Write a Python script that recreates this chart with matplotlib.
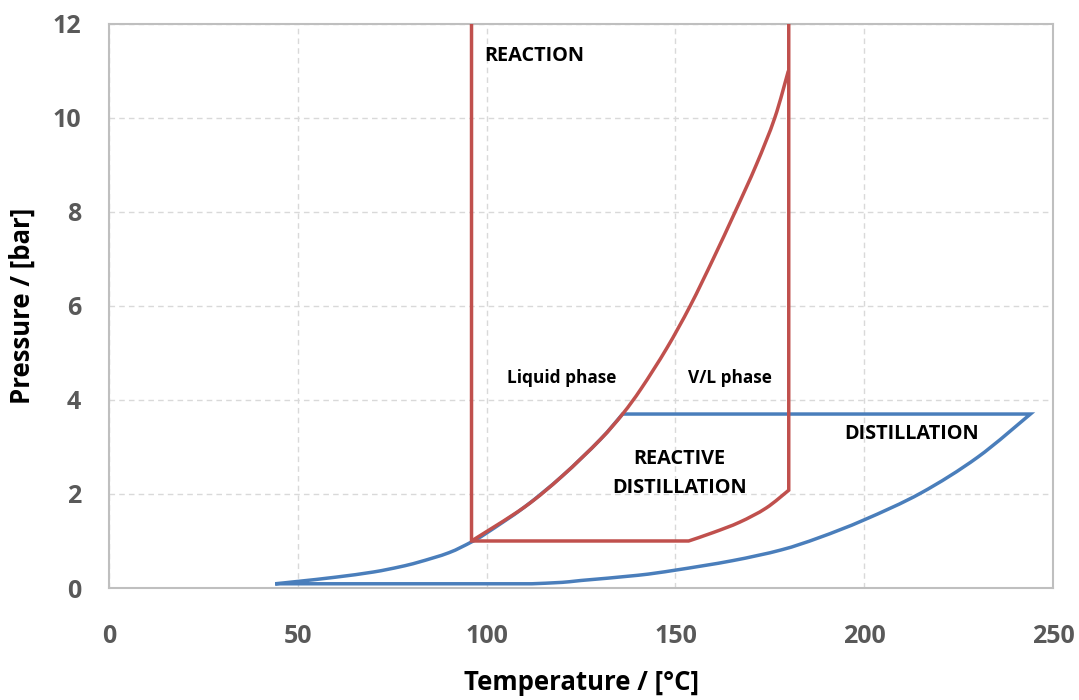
import numpy as np
import matplotlib
matplotlib.use("Agg")
from matplotlib import pyplot as plt
from matplotlib.path import Path
from matplotlib.patches import PathPatch

plt.rcParams['font.family'] = ['Open Sans', 'DejaVu Sans']

# blue: distillation envelope (upper curve, plateau, lower curve)
blue_up_T = [44, 50, 60, 70, 77, 82, 90, 96, 100, 110, 120, 130, 136]
blue_up_P = [0.09, 0.14, 0.23, 0.34, 0.45, 0.55, 0.75, 0.98, 1.17, 1.72, 2.38, 3.15, 3.7]
blue_low_T = [244, 230, 215, 200, 188, 178, 165, 150, 140, 125, 120, 112]
blue_low_P = [3.7, 2.78, 2.02, 1.45, 1.07, 0.81, 0.58, 0.38, 0.27, 0.16, 0.12, 0.09]

# red: reaction window
red_left_T = [96, 96, 153.5]
red_left_P = [12, 1.0, 1.0]
red_bend_T = [153.5, 160, 167, 174, 180]
red_bend_P = [1.0, 1.18, 1.40, 1.70, 2.08]
red_curve_T = [96, 110, 120, 130, 136, 141, 147.7, 153.9, 160, 165.8, 171.4, 176.3, 179.9]
red_curve_P = [1.0, 1.72, 2.38, 3.15, 3.7, 4.25, 5.1, 6.0, 7.0, 8.0, 9.0, 10.0, 11.0]

x_ticks = [0, 50, 100, 150, 200, 250]
y_ticks = [0, 2, 4, 6, 8, 10, 12]

blue = '#4a7ebb'
red = '#c0504d'


def add_smooth(verts, codes, xs, ys):
    # smoothed line like the spreadsheet one (Catmull-Rom as Bezier)
    pts = np.column_stack([xs, ys]).astype(float)
    if not verts:
        verts.append(pts[0]); codes.append(Path.MOVETO)
    else:
        verts.append(pts[0]); codes.append(Path.LINETO)
    n = len(pts)
    for i in range(n - 1):
        p0 = pts[i - 1] if i > 0 else pts[i]
        p1 = pts[i]
        p2 = pts[i + 1]
        p3 = pts[i + 2] if i + 2 < n else pts[i + 1]
        verts += [p1 + (p2 - p0) / 6, p2 - (p3 - p1) / 6, p2]
        codes += [Path.CURVE4] * 3


def add_line(verts, codes, xs, ys):
    for j, (x, y) in enumerate(zip(xs, ys)):
        verts.append((x, y))
        codes.append(Path.MOVETO if (not codes and j == 0) else Path.LINETO)


fig = plt.figure(figsize=(10.79, 7.0), dpi=100)
ax = fig.add_axes([0.101, 0.16, 0.875, 0.806])

v, c = [], []
add_smooth(v, c, blue_up_T, blue_up_P)
add_smooth(v, c, blue_low_T, blue_low_P)
add_line(v, c, [blue_up_T[0]], [blue_up_P[0]])
ax.add_patch(PathPatch(Path(v, c), fill=False, edgecolor=blue, lw=2.5,
                       joinstyle='miter', zorder=2))

v, c = [], []
add_line(v, c, red_left_T, red_left_P)
add_smooth(v, c, red_bend_T, red_bend_P)
add_line(v, c, [180], [12])
ax.add_patch(PathPatch(Path(v, c), fill=False, edgecolor=red, lw=2.5,
                       joinstyle='miter', zorder=3))

v, c = [], []
add_smooth(v, c, red_curve_T, red_curve_P)
ax.add_patch(PathPatch(Path(v, c), fill=False, edgecolor=red, lw=2.5, zorder=3))

ax.set_xlim(0, 250)
ax.set_ylim(0, 12)
ax.set_xticks(x_ticks)
ax.set_yticks(y_ticks)
ax.grid(True, color='#d9d9d9', linestyle=(0, (4, 3)), lw=1)
ax.set_axisbelow(True)
for s in ax.spines.values():
    s.set_color('#bfbfbf')
    s.set_linewidth(1.5)
ax.tick_params(length=0, labelsize=18, labelcolor='#595959')
ax.tick_params(axis='x', pad=26)
ax.tick_params(axis='y', pad=20)
for lab in ax.get_xticklabels() + ax.get_yticklabels():
    lab.set_fontweight('bold')

ax.set_xlabel('Temperature / [°C]', fontsize=18.5, fontweight='bold')
ax.set_ylabel('Pressure / [bar]', fontsize=18.5, fontweight='bold')
ax.xaxis.label.set_va('center')
ax.yaxis.label.set_va('center')
ax.xaxis.set_label_coords(0.5, -0.168)
ax.yaxis.set_label_coords(-0.092, 0.5)

kw = dict(fontsize=14.3, fontweight='bold', ha='center', va='center')
kw2 = dict(fontsize=12.4, fontweight='bold', ha='center', va='center')
ax.text(112.7, 11.32, 'REACTION', **kw)
ax.text(120, 4.47, 'Liquid phase', **kw2)
ax.text(164.5, 4.47, 'V/L phase', **kw2)
ax.text(151, 2.74, 'REACTIVE', **kw)
ax.text(151, 2.13, 'DISTILLATION', **kw)
ax.text(212.5, 3.27, 'DISTILLATION', **kw)

fig.savefig('out.png', dpi=100)
